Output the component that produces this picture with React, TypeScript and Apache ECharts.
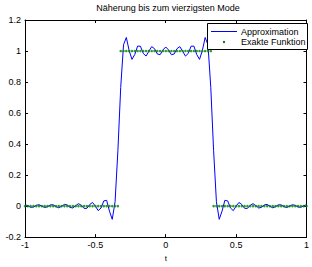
import React, { useEffect, useRef } from "react";
import * as echarts from "echarts";

const titleText = "Näherung bis zum vierzigsten Mode";
const xName = "t";
const legendNames = ["Approximation", "Exakte Funktion"];

const tValues = [
  -1, -0.98, -0.96, -0.94, -0.92, -0.9, -0.88, -0.86, -0.84, -0.82,
  -0.8, -0.78, -0.76, -0.74, -0.72, -0.7, -0.68, -0.66, -0.64, -0.62,
  -0.6, -0.58, -0.56, -0.54, -0.52, -0.5, -0.48, -0.46, -0.44, -0.42,
  -0.4, -0.38, -0.36, -0.34, -0.32, -0.3, -0.28, -0.26, -0.24, -0.22,
  -0.2, -0.18, -0.16, -0.14, -0.12, -0.1, -0.08, -0.06, -0.04, -0.02,
  0,
  0.02, 0.04, 0.06, 0.08, 0.1, 0.12, 0.14, 0.16, 0.18, 0.2,
  0.22, 0.24, 0.26, 0.28, 0.3, 0.32, 0.34, 0.36, 0.38, 0.4,
  0.42, 0.44, 0.46, 0.48, 0.5, 0.52, 0.54, 0.56, 0.58, 0.6,
  0.62, 0.64, 0.66, 0.68, 0.7, 0.72, 0.74, 0.76, 0.78, 0.8,
  0.82, 0.84, 0.86, 0.88, 0.9, 0.92, 0.94, 0.96, 0.98, 1,
];

const approxValues = [
  0.009, 0.0022, -0.0079, -0.0062, 0.0049, 0.0088, -0.0006, -0.0094, -0.0042, 0.0077,
  0.0083, -0.0039, -0.0109, -0.0014, 0.011, 0.0073, -0.0083, -0.0124, 0.0027, 0.0155,
  0.0051, -0.0152, -0.0143, 0.0104, 0.0232, 0.0, -0.0292, -0.0128, 0.0334, 0.0372,
  -0.0323, -0.0853, 0.0285, 0.3575, 0.7654, 1.04, 1.0874, 1.0028, 0.9461, 0.9778,
  1.0316, 1.0309, 0.9848, 0.9674, 0.998, 1.0284, 1.0154, 0.9809, 0.9761, 1.0067,
  1.0261,
  1.0067, 0.9761, 0.9809, 1.0154, 1.0284, 0.998, 0.9674, 0.9848, 1.0309, 1.0316,
  0.9778, 0.9461, 1.0028, 1.0874, 1.04, 0.7654, 0.3575, 0.0285, -0.0853, -0.0323,
  0.0372, 0.0334, -0.0128, -0.0292, 0.0, 0.0232, 0.0104, -0.0143, -0.0152, 0.0051,
  0.0155, 0.0027, -0.0124, -0.0083, 0.0073, 0.011, -0.0014, -0.0109, -0.0039, 0.0083,
  0.0077, -0.0042, -0.0094, -0.0006, 0.0088, 0.0049, -0.0062, -0.0079, 0.0022, 0.009,
];

const exactValues = [
  0, 0, 0, 0, 0, 0, 0, 0, 0, 0,
  0, 0, 0, 0, 0, 0, 0, 0, 0, 0,
  0, 0, 0, 0, 0, 0, 0, 0, 0, 0,
  0, 0, 0, 0, 1, 1, 1, 1, 1, 1,
  1, 1, 1, 1, 1, 1, 1, 1, 1, 1,
  1,
  1, 1, 1, 1, 1, 1, 1, 1, 1, 1,
  1, 1, 1, 1, 1, 1, 0, 0, 0, 0,
  0, 0, 0, 0, 0, 0, 0, 0, 0, 0,
  0, 0, 0, 0, 0, 0, 0, 0, 0, 0,
  0, 0, 0, 0, 0, 0, 0, 0, 0, 0,
];

const FONT = "'Liberation Sans', Arial, sans-serif";

export default function App() {
  const ref = useRef<HTMLDivElement>(null);

  useEffect(() => {
    document.body.style.margin = "0";
    if (!ref.current) return;
    const chart = echarts.init(ref.current, undefined, { renderer: "svg" });

    const approxData = tValues.map((t, i) => [t, approxValues[i]]);
    const exactData = tValues.map((t, i) => [t, exactValues[i]]);

    const axisCommon = {
      axisLine: { show: true, onZero: false, lineStyle: { color: "#000", width: 1 } },
      axisTick: { show: true, inside: true, length: 3, lineStyle: { color: "#000", width: 1 } },
      splitLine: { show: false },
    };

    const labelStyle = {
      fontSize: 9,
      color: "#000",
      fontFamily: FONT,
    };

    chart.setOption({
      animation: false,
      backgroundColor: "#fff",
      grid: { left: 25, right: 1, top: 20, bottom: 21, containLabel: false },
      xAxis: [
        {
          type: "value",
          position: "bottom",
          min: -1,
          max: 1,
          interval: 0.5,
          ...axisCommon,
          axisLabel: { ...labelStyle, margin: 3, showMinLabel: true, showMaxLabel: true },
          name: xName,
          nameLocation: "middle",
          nameGap: 13,
          nameTextStyle: { ...labelStyle, fontSize: 8 },
        },
        {
          type: "value",
          position: "top",
          min: -1,
          max: 1,
          interval: 0.5,
          ...axisCommon,
          axisLabel: { show: false },
        },
      ],
      yAxis: [
        {
          type: "value",
          position: "left",
          min: -0.2,
          max: 1.2,
          interval: 0.2,
          ...axisCommon,
          axisLabel: { ...labelStyle, margin: 4, showMinLabel: true, showMaxLabel: true },
        },
        {
          type: "value",
          position: "right",
          min: -0.2,
          max: 1.2,
          interval: 0.2,
          ...axisCommon,
          axisLabel: { show: false },
        },
      ],
      series: [
        {
          name: legendNames[0],
          type: "line",
          data: approxData,
          symbol: "none",
          showSymbol: false,
          lineStyle: { color: "#0000ff", width: 1 },
          itemStyle: { color: "#0000ff" },
          z: 2,
        },
        {
          name: legendNames[1],
          type: "scatter",
          data: exactData,
          symbol: "circle",
          symbolSize: 2.6,
          itemStyle: { color: "#008000" },
          z: 3,
        },
      ],
      graphic: [
        {
          type: "text",
          x: 168,
          y: 8,
          style: {
            text: titleText,
            fontSize: 9,
            fontFamily: FONT,
            fill: "#000",
            align: "center",
            verticalAlign: "middle",
          },
        },
        {
          type: "group",
          z: 100,
          children: [
            {
              type: "rect",
              shape: { x: 207.5, y: 23.5, width: 100, height: 26 },
              style: { fill: "#fff", stroke: "#000", lineWidth: 1 },
              z: 100,
            },
            {
              type: "line",
              shape: { x1: 211, y1: 31.5, x2: 237, y2: 31.5 },
              style: { stroke: "#0000ff", lineWidth: 1 },
              z: 101,
            },
            {
              type: "text",
              x: 241,
              y: 31.5,
              style: {
                text: legendNames[0],
                fontSize: 9,
                fontFamily: FONT,
                fill: "#000",
                verticalAlign: "middle",
              },
              z: 101,
            },
            {
              type: "circle",
              shape: { cx: 224, cy: 42, r: 1.2 },
              style: { fill: "#008000" },
              z: 101,
            },
            {
              type: "text",
              x: 241,
              y: 42,
              style: {
                text: legendNames[1],
                fontSize: 9,
                fontFamily: FONT,
                fill: "#000",
                verticalAlign: "middle",
              },
              z: 101,
            },
          ],
        },
      ],
    });

    return () => chart.dispose();
  }, []);

  return <div ref={ref} style={{ width: 312, height: 267 }} />;
}
